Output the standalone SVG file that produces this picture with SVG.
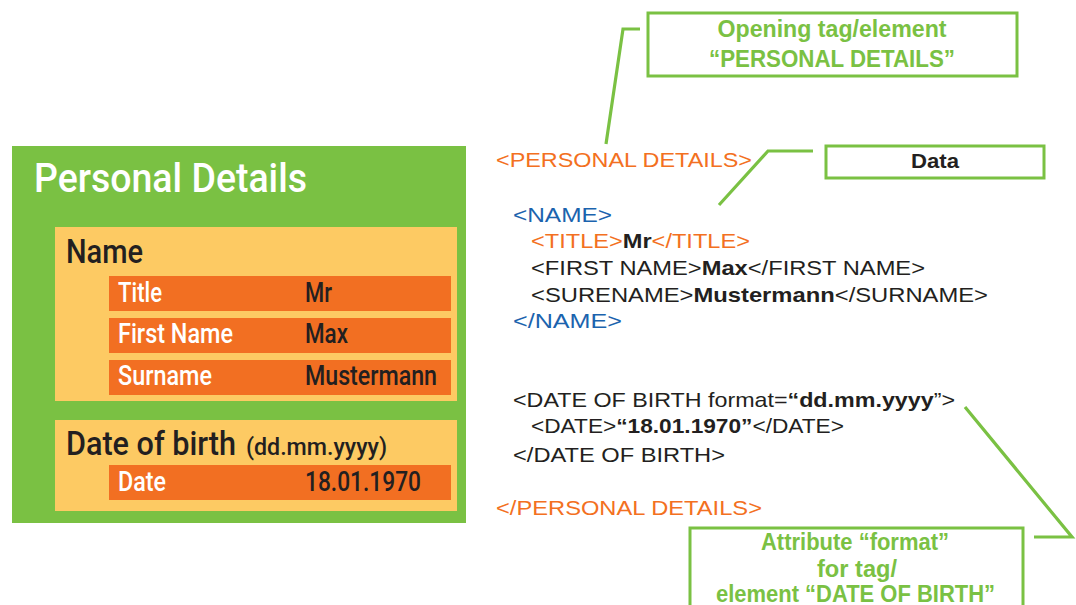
<svg xmlns="http://www.w3.org/2000/svg" width="1076" height="605" viewBox="0 0 1076 605">
<style>
.cond{font-family:Roboto,"Liberation Sans",sans-serif;}
.lbl{font-family:Roboto,"Liberation Sans",sans-serif;font-size:27px;font-weight:500;fill:#ffffff;}
.val{font-family:Roboto,"Liberation Sans",sans-serif;font-size:27px;font-weight:500;fill:#231f20;}
.row{fill:#f26f22;}
.grp{fill:#fdca63;}
.xml{font-family:"Liberation Sans",Arial,sans-serif;font-size:21px;fill:#231f20;}
.or{fill:#f37021;}
.bl{fill:#1b63ae;}
.b{font-weight:bold;fill:#231f20;}
.call{fill:none;stroke:#7ac143;stroke-width:3;}
.ctext{font-family:"Liberation Sans",Arial,sans-serif;font-size:23px;font-weight:bold;fill:#7ac143;text-anchor:middle;}
.lead{fill:none;stroke:#7ac143;stroke-width:3.2;stroke-linejoin:miter;}
</style>
<rect width="1076" height="605" fill="#ffffff"/>

<g id="personal-details">
<rect x="12" y="146" width="454" height="377" fill="#7ac143"/>
<text class="cond" x="34" y="192" font-size="40" font-weight="500" fill="#ffffff" textLength="273" lengthAdjust="spacingAndGlyphs">Personal Details</text>
</g>

<g id="name-group">
<rect class="grp" x="55" y="227" width="402" height="174"/>
<text class="cond" x="66" y="263" font-size="33" font-weight="500" fill="#231f20" textLength="77" lengthAdjust="spacingAndGlyphs">Name</text>
</g>

<g id="row-title">
<rect class="row" x="109" y="276" width="342" height="35"/>
<text class="lbl" x="118" y="302" textLength="44" lengthAdjust="spacingAndGlyphs">Title</text>
<text class="val" x="305" y="302" textLength="27" lengthAdjust="spacingAndGlyphs">Mr</text>
</g>

<g id="row-firstname">
<rect class="row" x="109" y="318" width="342" height="35"/>
<text class="lbl" x="118" y="343" textLength="115" lengthAdjust="spacingAndGlyphs">First Name</text>
<text class="val" x="305" y="343" textLength="43" lengthAdjust="spacingAndGlyphs">Max</text>
</g>

<g id="row-surname">
<rect class="row" x="109" y="360" width="342" height="35"/>
<text class="lbl" x="118" y="385" textLength="94" lengthAdjust="spacingAndGlyphs">Surname</text>
<text class="val" x="305" y="385" textLength="132" lengthAdjust="spacingAndGlyphs">Mustermann</text>
</g>

<g id="dob-group">
<rect class="grp" x="55" y="420" width="402" height="91"/>
<text class="cond" x="66" y="455" font-size="33" font-weight="500" fill="#231f20" textLength="170" lengthAdjust="spacingAndGlyphs">Date of birth</text>
<text class="cond" x="246" y="455" font-size="24" font-weight="500" fill="#231f20" textLength="141" lengthAdjust="spacingAndGlyphs">(dd.mm.yyyy)</text>
</g>

<g id="row-date">
<rect class="row" x="109" y="465" width="342" height="35"/>
<text class="lbl" x="118" y="491" textLength="48" lengthAdjust="spacingAndGlyphs">Date</text>
<text class="val" x="305" y="491" textLength="116" lengthAdjust="spacingAndGlyphs">18.01.1970</text>
</g>

<g id="xml-code">
<text class="xml or" x="496" y="167" textLength="256" lengthAdjust="spacingAndGlyphs">&lt;PERSONAL DETAILS&gt;</text>
<text class="xml bl" x="513" y="222" textLength="99" lengthAdjust="spacingAndGlyphs">&lt;NAME&gt;</text>
<text class="xml" x="531" y="248" textLength="219" lengthAdjust="spacingAndGlyphs"><tspan class="or">&lt;TITLE&gt;</tspan><tspan class="b">Mr</tspan><tspan class="or">&lt;/TITLE&gt;</tspan></text>
<text class="xml" x="531" y="275" textLength="394" lengthAdjust="spacingAndGlyphs">&lt;FIRST NAME&gt;<tspan class="b">Max</tspan>&lt;/FIRST NAME&gt;</text>
<text class="xml" x="531" y="302" textLength="457" lengthAdjust="spacingAndGlyphs">&lt;SURENAME&gt;<tspan class="b">Mustermann</tspan>&lt;/SURNAME&gt;</text>
<text class="xml bl" x="513" y="328" textLength="109" lengthAdjust="spacingAndGlyphs">&lt;/NAME&gt;</text>
<text class="xml" x="513" y="407" textLength="442" lengthAdjust="spacingAndGlyphs">&lt;DATE OF BIRTH format=<tspan class="b">“dd.mm.yyyy</tspan>”&gt;</text>
<text class="xml" x="531" y="433" textLength="313" lengthAdjust="spacingAndGlyphs">&lt;DATE&gt;<tspan class="b">“18.01.1970”</tspan>&lt;/DATE&gt;</text>
<text class="xml" x="513" y="462" textLength="212" lengthAdjust="spacingAndGlyphs">&lt;/DATE OF BIRTH&gt;</text>
<text class="xml or" x="496" y="515" textLength="266" lengthAdjust="spacingAndGlyphs">&lt;/PERSONAL DETAILS&gt;</text>
</g>

<g id="callout-opening">
<rect class="call" x="648" y="13" width="369" height="63"/>
<text class="ctext" x="832" y="37" textLength="229" lengthAdjust="spacingAndGlyphs">Opening tag/element</text>
<text class="ctext" x="832" y="67" textLength="246" lengthAdjust="spacingAndGlyphs">“PERSONAL DETAILS”</text>
</g>

<g id="callout-data">
<rect class="call" x="826" y="146" width="218" height="32"/>
<text x="935" y="168" font-family="'Liberation Sans',Arial,sans-serif" font-size="21" font-weight="bold" fill="#231f20" text-anchor="middle" textLength="48" lengthAdjust="spacingAndGlyphs">Data</text>
</g>

<g id="callout-attribute">
<rect class="call" x="690" y="528" width="333" height="100"/>
<text class="ctext" x="855" y="550" textLength="188" lengthAdjust="spacingAndGlyphs">Attribute “format”</text>
<text class="ctext" x="857" y="577" textLength="80" lengthAdjust="spacingAndGlyphs">for tag/</text>
<text class="ctext" x="855.5" y="602" textLength="279" lengthAdjust="spacingAndGlyphs">element “DATE OF BIRTH”</text>
</g>

<g id="connectors">
<polyline class="lead" points="606,144 623,29 640,29"/>
<polyline class="lead" points="719,205 768,151 813,151"/>
<polyline class="lead" points="965,407 1072,537 1034,537"/>
</g>
</svg>
